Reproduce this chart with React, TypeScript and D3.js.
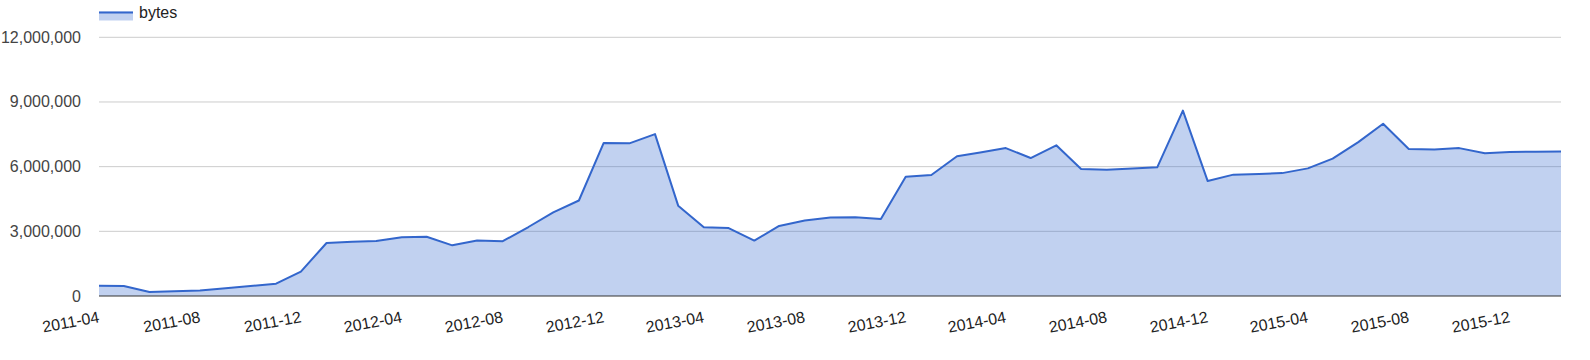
import React from "react";
import * as d3 from "d3";

const months: string[] = [
  "2011-04","2011-05","2011-06","2011-07","2011-08","2011-09","2011-10","2011-11","2011-12",
  "2012-01","2012-02","2012-03","2012-04","2012-05","2012-06","2012-07","2012-08","2012-09","2012-10","2012-11","2012-12",
  "2013-01","2013-02","2013-03","2013-04","2013-05","2013-06","2013-07","2013-08","2013-09","2013-10","2013-11","2013-12",
  "2014-01","2014-02","2014-03","2014-04","2014-05","2014-06","2014-07","2014-08","2014-09","2014-10","2014-11","2014-12",
  "2015-01","2015-02","2015-03","2015-04","2015-05","2015-06","2015-07","2015-08","2015-09","2015-10","2015-11","2015-12",
  "2016-01","2016-02",
];

const bytes: number[] = [
  480000, 460000, 190000, 220000, 250000, 360000, 460000, 570000, 1130000,
  2460000, 2520000, 2550000, 2720000, 2750000, 2350000, 2570000, 2540000, 3200000, 3880000, 4430000, 7100000,
  7080000, 7510000, 4190000, 3190000, 3150000, 2570000, 3250000, 3500000, 3640000, 3650000, 3570000, 5530000,
  5610000, 6480000, 6660000, 6860000, 6400000, 6990000, 5890000, 5860000, 5910000, 5970000, 8600000, 5330000,
  5630000, 5660000, 5700000, 5920000, 6370000, 7140000, 7990000, 6820000, 6790000, 6860000, 6620000, 6680000,
  6690000, 6700000,
];

const yTicks: number[] = [0, 3000000, 6000000, 9000000, 12000000];
const xTickLabels: string[] = [
  "2011-04","2011-08","2011-12","2012-04","2012-08","2012-12","2013-04","2013-08",
  "2013-12","2014-04","2014-08","2014-12","2015-04","2015-08","2015-12",
];
const seriesName = "bytes";

const W = 1590;
const H = 360;
const FONT = "Arial, 'Liberation Sans', sans-serif";

export default function App() {
  const parse = d3.timeParse("%Y-%m");
  const data = months.map((m, i) => ({ date: parse(m) as Date, value: bytes[i] }));

  const x = d3
    .scaleTime()
    .domain([data[0].date, data[data.length - 1].date])
    .range([99, 1561]);
  const y = d3.scaleLinear().domain([0, 12000000]).range([296, 37.3]);

  const area = d3
    .area<{ date: Date; value: number }>()
    .x((d) => x(d.date))
    .y0(y(0))
    .y1((d) => y(d.value));
  const line = d3
    .line<{ date: Date; value: number }>()
    .x((d) => x(d.date))
    .y((d) => y(d.value));

  const fmt = d3.format(",");
  const [x0, x1] = x.range();

  return (
    <svg
      width={W}
      height={H}
      style={{ position: "absolute", left: 0, top: 0, background: "#fff" }}
      fontFamily={FONT}
    >
      {/* legend */}
      <rect x={99} y={11.5} width={34} height={9} fill="#3366cc" fillOpacity={0.3} />
      <line x1={99} x2={133} y1={12.5} y2={12.5} stroke="#3366cc" strokeWidth={2} />
      <text x={139} y={17.5} fontSize={16} fill="#222">
        {seriesName}
      </text>

      {/* gridlines */}
      {yTicks
        .filter((t) => t !== 0)
        .map((t) => (
          <line key={t} x1={x0} x2={x1} y1={y(t)} y2={y(t)} stroke="#cccccc" strokeWidth={1} />
        ))}

      {/* area */}
      <path d={area(data) || ""} fill="#3366cc" fillOpacity={0.3} />
      <path d={line(data) || ""} fill="none" stroke="#3366cc" strokeWidth={2} strokeLinejoin="round" />

      {/* baseline */}
      <line x1={x0} x2={x1} y1={y(0)} y2={y(0)} stroke="#333333" strokeWidth={1} />

      {/* y labels */}
      {yTicks.map((t) => (
        <text key={t} x={81} y={y(t) + 5.5} fontSize={16} fill="#444" textAnchor="end">
          {fmt(t)}
        </text>
      ))}

      {/* x labels */}
      {xTickLabels.map((l) => {
        const xp = x(parse(l) as Date);
        return (
          <text
            key={l}
            transform={`translate(${xp + 1},322) rotate(-10.6)`}
            fontSize={16}
            fill="#222"
            textAnchor="end"
          >
            {l}
          </text>
        );
      })}
    </svg>
  );
}
